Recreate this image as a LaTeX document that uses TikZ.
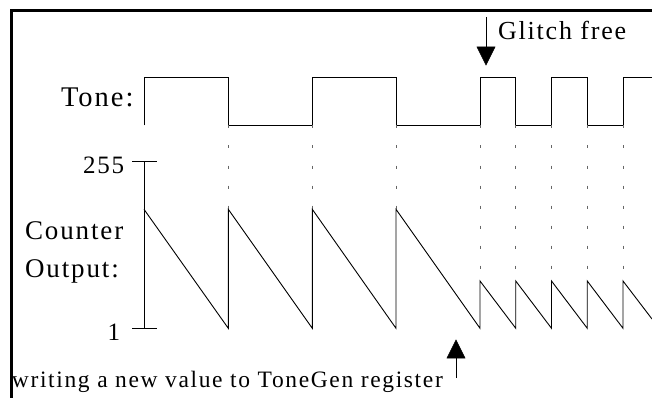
\documentclass[tikz,border=0pt]{standalone}
\usepackage{fontspec}
\setmainfont{Liberation Serif}[LetterSpace=7]
\begin{document}
\begin{tikzpicture}[x=1pt,y=-1pt,
  wave/.style={line width=0.9pt},
  guide/.style={gray!80!black,line width=0.8pt,dash pattern=on 3pt off 17pt},
  lbl/.style={anchor=base west,inner sep=0pt,outer sep=0pt},
  shaft/.style={line width=0.9pt},
  head/.style={fill=black,draw=black,line width=0.5pt,line join=miter}]
\useasboundingbox (0,0) rectangle (652,398);
% frame (top and left only)
\draw[line width=3pt] (11.3,398) -- (11.3,10.5) -- (652,10.5);
% labels
\node[lbl] (tone) at (61,106.7) {\fontsize{28.5}{34}\selectfont Tone:};
\node[lbl] (n255) at (83,173.3) {\fontsize{25}{30}\selectfont 255};
\node[lbl] (counter) at (25,239) {\fontsize{27}{33}\selectfont Counter};
\node[lbl] (output) at (25,277) {\fontsize{27}{33}\selectfont Output:};
\node[lbl] (n1) at (107.5,340.5) {\fontsize{25}{30}\selectfont 1};
\node[lbl] (glitch) at (498,40) {\fontsize{26}{31}\selectfont Glitch free};
\node[lbl] (writing) at (12,387) {\fontsize{23.5}{28}\selectfont writing a new value to ToneGen register};
% tone waveform
\draw[wave] (144,125.5) -- (144,77) -- (228.3,77) -- (228.3,125.5) -- (312.3,125.5) -- (312.3,77)
  -- (396,77) -- (396,125.5) -- (480,125.5) -- (480,77) -- (515.75,77) -- (515.75,125.5)
  -- (551.5,125.5) -- (551.5,77) -- (587.25,77) -- (587.25,125.5) -- (623,125.5) -- (623,77) -- (652,77);
% axis with ticks
\draw[wave] (144,161.5) -- (144,328.3);
\draw[wave] (132,161.5) -- (157,161.5);
\draw[wave] (132,328.3) -- (157,328.3);
% guides
\foreach \x in {228.3,312.3,396} \draw[guide] (\x,125.5) -- (\x,209);
\foreach \x in {480,515.75,551.5,587.25,623} \draw[guide] (\x,125.5) -- (\x,281);
% counter sawtooth
\draw[wave] (144,209.3) -- (228.3,328.3) -- (228.3,209.3) -- (312.3,328.3) -- (312.3,209.3)
  -- (396,328.3) -- (396,209.3) -- (480,328.3) -- (480,281) -- (515.75,328.3) -- (515.75,281)
  -- (551.5,328.3) -- (551.5,281) -- (587.25,328.3) -- (587.25,281) -- (623,328.3) -- (623,281) -- (652,319);
% arrows
\coordinate (gtop) at (486,17);
\coordinate (gbase) at (486,48);
\coordinate (gtip) at (486,65);
\draw[shaft] (gtop) -- (gbase);
\draw[head] (477,47) -- (495,47) -- (gtip) -- cycle;
\coordinate (wbot) at (456,378);
\coordinate (wbase) at (456,357);
\coordinate (wtip) at (456,340);
\draw[shaft] (wbot) -- (wbase);
\draw[head] (447,358) -- (465,358) -- (wtip) -- cycle;
\end{tikzpicture}
\end{document}
